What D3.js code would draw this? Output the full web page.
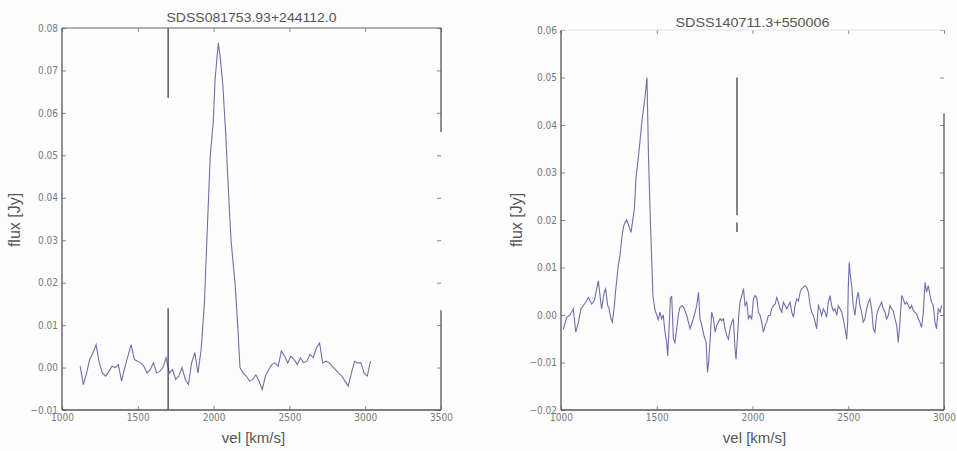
<!DOCTYPE html>
<html>
<head>
<meta charset="utf-8">
<script src="https://cdn.jsdelivr.net/npm/d3@7/dist/d3.min.js"></script>
<style>
  body { margin: 0; background: #fdfdfd; }
  text { font-family: "Liberation Sans", Arial, sans-serif; }
</style>
</head>
<body>
<script>
var width = 957;
var height = 451;

// left spectrum: SDSS081753.93+244112.0
var leftTitle = "SDSS081753.93+244112.0";
var leftVel = [1120,1141,1162,1183,1204,1225,1246,1267,1288,1309,1330,1351,1372,1393,1414,1435,1456,1477,1498,1519,
  1540,1561,1582,1603,1624,1645,1666,1687,1708,1729,1750,1771,1792,1813,1834,1855,1876,1897,1918,
  1939,1960,1978,1998,2010,2031,2044,2060,2080,2103,2115,2141,2159,2174,
  2195,2216,2237,2258,2279,2300,2321,2342,2363,2384,2405,2426,2447,2468,2489,2510,2531,2552,2573,2594,
  2615,2636,2657,2678,2699,2720,2741,2762,2783,2804,2825,2846,2867,2888,2909,2930,2951,2972,2993,3014,3035];
var leftFlux = [0.0003,-0.0040,-0.0013,0.0019,0.0035,0.0054,0.0011,-0.0013,-0.0020,-0.0009,0.0003,0.0000,0.0007,-0.0032,0.0000,0.0027,0.0054,0.0019,0.0015,0.0011,
  0.0003,-0.0013,-0.0005,0.0011,-0.0013,-0.0009,0.0000,0.0023,-0.0013,-0.0005,-0.0028,-0.0020,0.0000,-0.0028,-0.0040,0.0011,0.0035,-0.0013,0.0043,
  0.015,0.034,0.050,0.058,0.068,0.0765,0.073,0.067,0.055,0.038,0.030,0.020,0.010,0.000,
  -0.0013,-0.0020,-0.0032,-0.0028,-0.0017,-0.0032,-0.0052,-0.0020,-0.0005,0.0007,0.0011,0.0003,0.0039,0.0027,0.0011,0.0027,0.0019,0.0007,0.0023,0.0011,
  0.0015,0.0031,0.0023,0.0046,0.0058,0.0011,0.0015,0.0011,0.0003,-0.0005,-0.0013,-0.0020,-0.0032,-0.0044,-0.0013,0.0015,0.0011,0.0011,-0.0013,-0.0020,0.0015];
var leftXTicks = [1000, 1500, 2000, 2500, 3000, 3500];
var leftYTicks = [-0.01, 0.00, 0.01, 0.02, 0.03, 0.04, 0.05, 0.06, 0.07, 0.08];
var leftMarker = [[1700, 0.08, 0.0635], [1700, 0.014, -0.01]];
var leftRightSpine = [[0.08, 0.0555], [0.0135, -0.01]];

// right spectrum: SDSS140711.3+550006
var rightTitle = "SDSS140711.3+550006";
var rightVel = [1012,1030,1047,1064,1077,1091,1104,1117,1134,1143,1160,1174,1186,1195,1204,1212,1226,1233,1244,1251,
  1261,1268,1279,1286,1292,1299,1308,1317,1326,1334,1343,1352,1366,1373,1383,1392,1406,1423,1439,1449,
  1457,1465,1470,1475,1480,1491,1500,1508,1517,1526,1534,1543,1552,1557,1564,1571,1578,1587,1595,1604,
  1613,1621,1634,1644,1656,
  1674,1691,1709,1718,1726,1735,1747,1758,1765,1771,1778,1787,1796,1805,1813,1822,1831,1839,1848,1857,
  1866,1874,1883,1892,1900,1909,1914,1921,1928,1935,1944,1953,1961,1970,1979,1987,1996,2005,2013,2022,
  2031,2040,2048,2057,2066,2074,2083,2092,2100,2109,2118,2127,2135,2144,2153,2161,2170,2179,2188,2196,
  2205,2214,2222,2231,2240,2249,2257,2266,2275,2283,2292,2301,2309,2318,2327,2335,
  2344,2352,2361,2370,2379,2387,2396,2405,2413,2422,2431,2440,2448,2457,2466,2474,2483,2492,2497,2500,
  2505,2511,2518,2526,2535,2544,2552,2561,2570,2578,2587,2596,2605,2613,2622,2631,2639,2648,2657,2666,
  2674,2683,2692,2700,2709,2718,2726,2735,2744,2753,2761,2770,2779,2787,2796,2805,2814,2822,2831,2840,
  2848,2857,2866,2874,2883,2892,2901,2909,2918,2927,2935,2944,2953,2961,2970,2979,2988];
var rightFlux = [-0.0030,-0.0005,0.0000,0.0013,-0.0036,-0.0015,0.0013,0.0020,0.0030,0.0037,0.0023,0.0030,0.0055,0.0072,0.0040,0.0013,0.0048,0.0055,0.0020,0.0013,
  -0.0008,-0.0015,0.0020,0.0055,0.0076,0.0104,0.0125,0.0160,0.0185,0.0195,0.0200,0.0190,0.0174,0.0195,0.0223,0.0290,0.0340,0.0410,0.0460,0.0500,
  0.0330,0.0220,0.0160,0.0100,0.0040,0.0010,0.0000,-0.0010,0.0006,-0.0008,0.0000,-0.0036,-0.0058,-0.0086,-0.0030,0.0034,0.0040,-0.0050,-0.0058,-0.0030,
  0.0000,0.0016,0.0020,0.0013,0.0000,
  -0.0029,-0.0008,0.0020,0.0048,-0.0008,-0.0022,-0.0044,-0.0058,-0.0121,-0.0100,-0.0058,0.0006,-0.0008,-0.0036,-0.0022,-0.0015,-0.0008,-0.0012,-0.0008,-0.0029,
  -0.0044,-0.0051,-0.0029,-0.0015,-0.0008,-0.0072,-0.0093,-0.0051,-0.0001,0.0027,0.0041,0.0055,0.0020,0.0027,-0.0008,-0.0001,-0.0008,0.0034,0.0041,0.0037,
  0.0006,-0.0001,-0.0015,-0.0036,-0.0022,-0.0015,-0.0001,-0.0001,0.0013,0.0020,0.0023,0.0037,0.0027,0.0013,0.0006,0.0027,0.0020,0.0013,0.0020,0.0027,
  0.0006,-0.0005,0.0020,0.0034,0.0030,0.0048,0.0055,0.0058,0.0062,0.0058,0.0048,0.0020,0.0006,-0.0001,-0.0015,-0.0029,
  0.0020,0.0013,-0.0001,0.0013,0.0006,-0.0005,0.0027,0.0041,0.0020,0.0009,0.0013,-0.0001,0.0020,0.0013,0.0006,-0.0008,-0.0029,-0.0051,-0.0015,0.0055,
  0.0111,0.0083,0.0062,0.0020,-0.0001,0.0034,0.0048,0.0020,0.0006,-0.0015,-0.0008,0.0013,0.0027,0.0034,0.0013,-0.0029,-0.0036,-0.0001,0.0013,0.0020,
  0.0027,0.0013,0.0006,-0.0008,-0.0001,0.0020,0.0013,0.0009,-0.0008,-0.0022,-0.0058,-0.0015,0.0041,0.0034,0.0023,0.0027,0.0020,0.0013,0.0020,0.0009,
  0.0006,0.0002,-0.0008,-0.0015,-0.0026,0.0006,0.0069,0.0048,0.0062,0.0041,0.0027,0.0020,-0.0015,-0.0029,0.0013,0.0006,0.0020];
var rightXTicks = [1000, 1500, 2000, 2500, 3000];
var rightYTicks = [-0.02, -0.01, 0.00, 0.01, 0.02, 0.03, 0.04, 0.05, 0.06];
var rightMarker = [[1919, 0.05, 0.021], [1919, 0.0195, 0.0175]];
var rightRightSpine = [[0.0425, -0.02]];

var panels = [
  { title: leftTitle, vel: leftVel, flux: leftFlux, xTicks: leftXTicks, yTicks: leftYTicks,
    xDomain: [1000, 3500], yDomain: [-0.01, 0.08], left: 62, right: 441, top: 28, bottom: 410,
    titleY: 22, titleLen: 170, yLabelX: 14, markers: leftMarker, rightSpine: leftRightSpine, topSpine: "#666" },
  { title: rightTitle, vel: rightVel, flux: rightFlux, xTicks: rightXTicks, yTicks: rightYTicks,
    xDomain: [1000, 3000], yDomain: [-0.02, 0.06], left: 561, right: 944, top: 30, bottom: 410,
    titleY: 27, titleLen: 154, yLabelX: 516, markers: rightMarker, rightSpine: rightRightSpine, topSpine: "#e4e4e4" }
];

var svg = d3.select("body")
    .append("svg")
    .attr("width", width)
    .attr("height", height);

panels.forEach(function(p) {
  var x = d3.scaleLinear().domain(p.xDomain).range([p.left, p.right]);
  var y = d3.scaleLinear().domain(p.yDomain).range([p.bottom, p.top]);
  var g = svg.append("g");
  var cx = (p.left + p.right) / 2;

  // ticks (inward, all four sides)
  var bottomAxis = g.append("g")
      .attr("transform", "translate(0," + p.bottom + ")")
      .call(d3.axisBottom(x).tickValues(p.xTicks).tickSize(-4).tickPadding(4).tickFormat(d3.format("d")));
  var leftAxis = g.append("g")
      .attr("transform", "translate(" + p.left + ",0)")
      .call(d3.axisLeft(y).tickValues(p.yTicks).tickSize(-4).tickPadding(4).tickFormat(d3.format(".2f")));
  var topAxis = g.append("g")
      .attr("transform", "translate(0," + p.top + ")")
      .call(d3.axisTop(x).tickValues(p.xTicks).tickSize(-4).tickFormat(""));
  var rightAxis = g.append("g")
      .attr("transform", "translate(" + p.right + ",0)")
      .call(d3.axisRight(y).tickValues(p.yTicks).tickSize(-4).tickFormat(""));

  [bottomAxis, leftAxis, topAxis, rightAxis].forEach(function(a) {
    a.select(".domain").remove();
    a.selectAll("line").attr("stroke", "#888");
    a.selectAll("text")
      .attr("fill", "#777")
      .style("font-size", "10px")
      .style("font-family", "'DejaVu Sans Condensed', 'Liberation Sans', sans-serif");
  });

  // spectrum
  var pts = p.vel.map(function(v, i) { return [v, p.flux[i]]; });
  g.append("path")
    .datum(pts)
    .attr("fill", "none")
    .attr("stroke", "#5656a0")
    .attr("stroke-width", 1.1)
    .attr("stroke-opacity", 0.85)
    .attr("d", d3.line().x(function(d) { return x(d[0]); }).y(function(d) { return y(d[1]); }));

  // vertical marker lines
  g.selectAll(".marker")
    .data(p.markers)
    .enter().append("line")
    .attr("x1", function(d) { return x(d[0]); })
    .attr("x2", function(d) { return x(d[0]); })
    .attr("y1", function(d) { return y(d[1]); })
    .attr("y2", function(d) { return y(d[2]); })
    .attr("stroke", "#333")
    .attr("stroke-width", 1.2);

  // spines
  g.append("line").attr("x1", p.left).attr("x2", p.left).attr("y1", p.top).attr("y2", p.bottom)
    .attr("stroke", "#555").attr("stroke-width", 1.3);
  g.append("line").attr("x1", p.left).attr("x2", p.right).attr("y1", p.bottom).attr("y2", p.bottom)
    .attr("stroke", "#555").attr("stroke-width", 1.3);
  g.append("line").attr("x1", p.left).attr("x2", p.right).attr("y1", p.top).attr("y2", p.top)
    .attr("stroke", p.topSpine).attr("stroke-width", 1.2);
  g.selectAll(".rspine")
    .data(p.rightSpine)
    .enter().append("line")
    .attr("x1", p.right).attr("x2", p.right)
    .attr("y1", function(d) { return y(d[0]); })
    .attr("y2", function(d) { return y(d[1]); })
    .attr("stroke", "#555").attr("stroke-width", 1.3);

  // title and axis labels
  g.append("text")
    .attr("x", cx).attr("y", p.titleY)
    .attr("text-anchor", "middle")
    .attr("textLength", p.titleLen)
    .attr("lengthAdjust", "spacingAndGlyphs")
    .attr("fill", "#555")
    .style("font-size", "13px")
    .text(p.title);

  g.append("text")
    .attr("x", cx + 2).attr("y", 443)
    .attr("text-anchor", "middle")
    .attr("fill", "#555")
    .style("font-size", "15px")
    .text("vel [km/s]");

  g.append("text")
    .attr("transform", "translate(" + (p.yLabelX + 6) + ",220) rotate(-90)")
    .attr("text-anchor", "middle")
    .attr("fill", "#555")
    .style("font-size", "16px")
    .text("flux [Jy]");
});
</script>
</body>
</html>
